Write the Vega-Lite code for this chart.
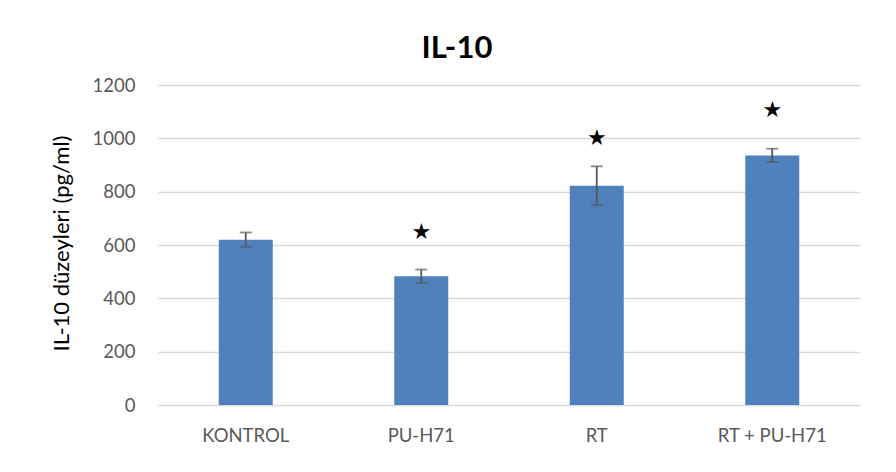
{
  "$schema": "https://vega.github.io/schema/vega-lite/v6.json",
  "width": 702,
  "height": 320,
  "autosize": "none",
  "padding": {"left": 158, "top": 85, "right": 36, "bottom": 67},
  "background": "white",
  "title": {
    "text": "IL-10",
    "font": "Lato",
    "fontSize": 31,
    "fontWeight": "bold",
    "color": "#000000",
    "anchor": "middle",
    "frame": "group",
    "dx": -52,
    "offset": 11
  },
  "data": {
    "values": [
      {"group": "KONTROL", "value": 620, "err": 27, "star": null},
      {"group": "PU-H71", "value": 483, "err": 25, "star": 650},
      {"group": "RT", "value": 822, "err": 73, "star": 1001},
      {"group": "RT + PU-H71", "value": 936, "err": 25, "star": 1107}
    ]
  },
  "encoding": {
    "x": {
      "field": "group",
      "type": "nominal",
      "sort": null,
      "scale": {"paddingInner": 0, "paddingOuter": 0},
      "axis": {
        "title": null,
        "labelAngle": 0,
        "labelFont": "Lato",
        "labelFontSize": 18.5,
        "labelColor": "#595959",
        "labelPadding": 21,
        "ticks": false,
        "domain": false,
        "grid": false
      }
    }
  },
  "layer": [
    {
      "mark": {"type": "bar", "color": "#4F81BD", "width": 54},
      "encoding": {
        "y": {
          "field": "value",
          "type": "quantitative",
          "title": "IL-10 düzeyleri (pg/ml)",
          "scale": {"domain": [0, 1200]},
          "axis": {
            "values": [0, 200, 400, 600, 800, 1000, 1200],
            "format": "d",
            "titleFont": "Lato",
            "titleFontSize": 22,
            "titleFontWeight": "normal",
            "titleColor": "#000000",
            "titleX": -97,
            "titleY": 158,
            "titleAngle": -90,
            "titleAlign": "center",
            "titleBaseline": "middle",
            "labelFont": "Lato",
            "labelFontSize": 18.5,
            "labelColor": "#595959",
            "labelPadding": 23,
            "ticks": false,
            "domain": false,
            "grid": true,
            "gridColor": "#D9D9D9",
            "gridWidth": 1.5
          }
        }
      }
    },
    {
      "mark": {"type": "errorbar", "color": "#595959", "thickness": 1.8, "ticks": {"size": 12, "thickness": 1.8, "color": "#595959"}},
      "encoding": {
        "y": {"field": "value", "type": "quantitative", "title": "IL-10 düzeyleri (pg/ml)"},
        "yError": {"field": "err"}
      }
    },
    {
      "transform": [{"filter": "datum.star != null"}],
      "mark": {"type": "text", "text": "★", "fontSize": 22, "color": "#000000", "baseline": "middle", "font": "DejaVu Sans"},
      "encoding": {
        "y": {"field": "star", "type": "quantitative", "title": "IL-10 düzeyleri (pg/ml)"}
      }
    }
  ],
  "config": {"view": {"stroke": null}}
}
